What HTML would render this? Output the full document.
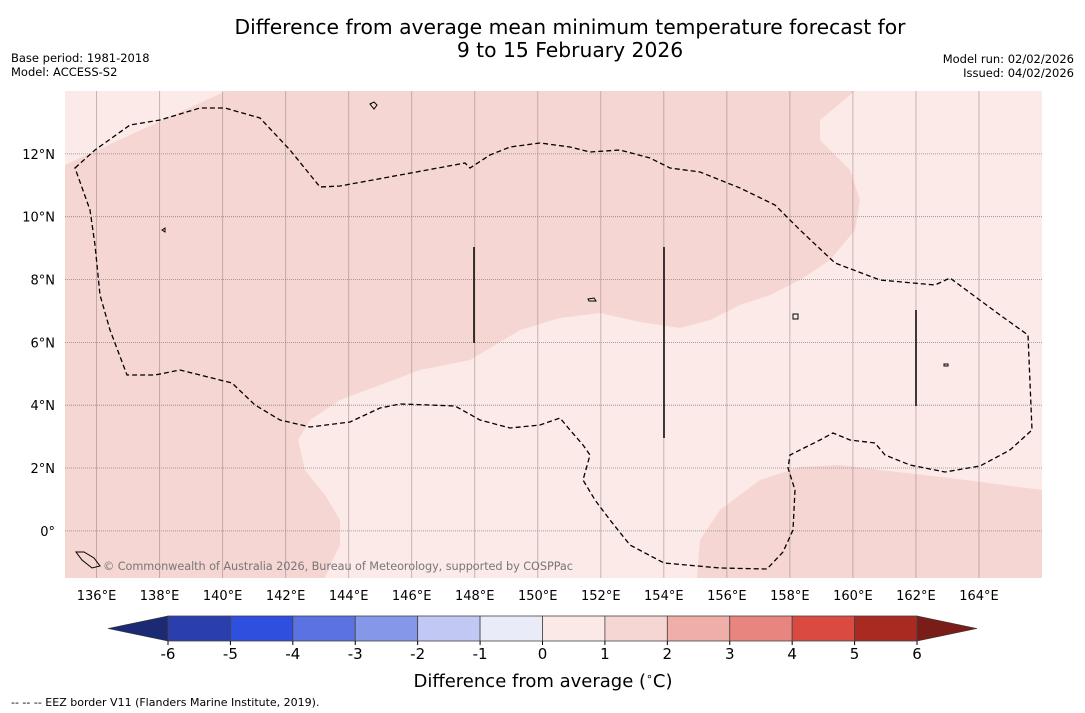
<!DOCTYPE html>
<html><head><meta charset="utf-8">
<style>
body{margin:0;background:#fff;font-family:"DejaVu Sans","Liberation Sans",sans-serif;}
svg{display:block}
</style></head>
<body>
<svg id="chart" width="1085" height="713" viewBox="0 0 1085 713" xmlns="http://www.w3.org/2000/svg" font-family="DejaVu Sans, Liberation Sans, sans-serif">
<text x="570" y="34" font-size="20.3" text-anchor="middle">Difference from average mean minimum temperature forecast for</text>
<text x="570" y="57" font-size="20.3" text-anchor="middle">9 to 15 February 2026</text>
<text x="11" y="62" font-size="11.5">Base period: 1981-2018</text>
<text x="11" y="76" font-size="11.5">Model: ACCESS-S2</text>
<text x="1074" y="63" font-size="11.5" text-anchor="end">Model run: 02/02/2026</text>
<text x="1074" y="77" font-size="11.5" text-anchor="end">Issued: 04/02/2026</text>
<g id="map">
<rect x="65" y="91" width="977" height="487" fill="#fbeae7"/>
<path fill="#f5d6d3" d="M226,91 L855,91 L820,120 L820,140 L850,170 L860,200 L855,230 L830,260 L800,280 L770,295 L740,305 L710,320 L680,328 L640,322 L600,313 L560,318 L520,330 L490,348 L470,360 L420,370 L380,385 L340,400 L310,420 L298,440 L305,470 L325,495 L340,520 L340,545 L330,565 L325,578 L65,578 L65,165 Z"/>
<path fill="#f5d6d3" d="M697,578 L700,540 L720,510 L760,480 L800,467 L840,465 L880,470 L950,478 L1042,490 L1042,578 Z"/>
<g id="grid"></g>
<path fill="none" stroke="#000" stroke-width="1.3" stroke-dasharray="5,3" d="M75,168 L95,150 L130,125 L160,120 L200,108 L225,108 L260,118 L290,150 L320,187 L340,186 L400,175 L465,163 L470,168 L490,155 L510,147 L540,143 L570,147 L590,152 L620,150 L650,158 L670,168 L700,172 L740,188 L775,205 L800,230 L835,263 L880,280 L935,285 L950,278 L1000,315 L1028,335 L1032,430 L1010,450 L980,466 L945,472 L910,465 L885,455 L875,443 L850,440 L833,433 L820,440 L790,455 L788,468 L795,490 L793,530 L783,552 L767,569 L720,568 L664,563 L630,545 L610,520 L595,500 L583,480 L590,455 L583,445 L570,430 L560,418 L540,425 L510,428 L480,420 L455,406 L430,405 L400,404 L380,408 L350,422 L310,427 L280,420 L255,405 L232,383 L228,382 L180,370 L155,375 L127,375 L110,330 L100,295 L95,245 L90,210 Z"/>
<g stroke="#000" stroke-width="1.5">
<line x1="474" y1="247" x2="474" y2="343"/><line x1="664" y1="247" x2="664" y2="438"/><line x1="916" y1="310" x2="916" y2="406"/>
</g>
<g fill="none" stroke="#000" stroke-width="1">
<path d="M370,104 l4,-2 l3,3 l-3,4 z"/><path d="M162,230 l3,-2 l0,4 z"/><path d="M588,299 l6,-1 l2,3 l-7,0 z"/><path d="M793,314 l5,0 l0,5 l-5,0 z"/><path d="M944,364 l4,0 l0,2 l-4,0 z"/><path d="M76,552 l8,0 l10,6 l6,8 l-8,2 l-10,-8 z"/>
</g>
<text x="103" y="570" font-size="11.3" fill="#777" textLength="470">© Commonwealth of Australia 2026, Bureau of Meteorology, supported by COSPPac</text>
</g>
<g id="xticks"></g>
<g id="yticks"></g>
<g id="cbar"></g>
<text x="543" y="687" font-size="18" text-anchor="middle">Difference from average (<tspan font-size="11" dy="-7">∘</tspan><tspan dy="7">C)</tspan></text>
<text x="11" y="706" font-size="11">--  --  -- EEZ border V11 (Flanders Marine Institute, 2019).</text>
</svg>
<script>
const lonTicks=[136,138,140,142,144,146,148,150,152,154,156,158,160,162,164];
const latTicks=[0,2,4,6,8,10,12];
const cbarLevels=[-6,-5,-4,-3,-2,-1,0,1,2,3,4,5,6];
const cbarColors=["#2a3fac","#2f4fdf","#5a72e2","#8597e9","#c1c8f3","#e9ecf8","#fbe9e7","#f5d6d3","#efaea8","#e8857e","#da4a40","#a92a21"];
const NS="http://www.w3.org/2000/svg";
const L0=135,L1=166,T=14,B=-1.5,X0=65,X1=1042,Y0=91,Y1=578;
const xLon=l=>X0+(l-L0)/(L1-L0)*(X1-X0);
const yLat=a=>Y0+(T-a)/(T-B)*(Y1-Y0);
function mk(t,a,p){const e=document.createElementNS(NS,t);for(const k in a)e.setAttribute(k,a[k]);p.appendChild(e);return e;}
const grid=document.getElementById('grid'),xt=document.getElementById('xticks'),yt=document.getElementById('yticks');
lonTicks.forEach(l=>{
 const ln=mk('line',{x1:xLon(l),x2:xLon(l),y1:Y0,y2:Y1,stroke:'#8a7070','stroke-opacity':0.45,'stroke-width':1},grid);
 
 
 const t=mk('text',{x:xLon(l),y:600,'font-size':13,'text-anchor':'middle'},xt);t.textContent=l+'°E';
 
 
});
latTicks.forEach(a=>{
 const ln=mk('line',{x1:X0,x2:X1,y1:yLat(a),y2:yLat(a),stroke:'#888','stroke-width':0.8,'stroke-dasharray':'1,1'},grid);
 
 
 const t=mk('text',{x:55,y:yLat(a)+5,'font-size':13,'text-anchor':'end'},yt);t.textContent=a===0?'0°':a+'°N';
 
 
});
const cb=document.getElementById('cbar');
const C0=168,C1=917,CY=616,CH=25;
const cx=v=>C0+(v-cbarLevels[0])/(cbarLevels[cbarLevels.length-1]-cbarLevels[0])*(C1-C0);
const lt=mk('polygon',{points:`${C0},${CY} ${C0},${CY+CH} 108,${CY+CH/2}`,fill:'#1b2a72',stroke:'#333','stroke-width':0.6},cb);


const rt=mk('polygon',{points:`${C1},${CY} ${C1},${CY+CH} 977,${CY+CH/2}`,fill:'#7a1c17',stroke:'#333','stroke-width':0.6},cb);


cbarColors.forEach((c,i)=>{
 const r=mk('rect',{x:cx(cbarLevels[i]),y:CY,width:cx(cbarLevels[i+1])-cx(cbarLevels[i]),height:CH,fill:c,stroke:'#444','stroke-width':0.8},cb);
 
 
});
cbarLevels.forEach(v=>{
 mk('line',{x1:cx(v),x2:cx(v),y1:CY+CH,y2:CY+CH+4,stroke:'#000'},cb);
 const t=mk('text',{x:cx(v),y:659,'font-size':15,'text-anchor':'middle'},cb);t.textContent=v;
 
 
});
</script>
</body></html>
